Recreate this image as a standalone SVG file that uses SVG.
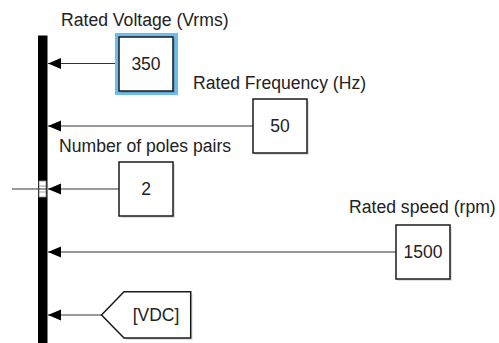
<svg xmlns="http://www.w3.org/2000/svg" width="499" height="343" viewBox="0 0 499 343">
<style>
text{font-family:"Liberation Sans",Arial,sans-serif;fill:#222;}
.lbl{font-size:17.6px;}
.val{font-size:17.5px;text-anchor:middle;}
.blk{fill:#fff;stroke:#1a1a1a;stroke-width:1.5;}
.sh{fill:#000;opacity:0.12;}
.wire{stroke:#333;stroke-width:1;fill:none;}
</style>
<defs>
<marker id="arr" markerWidth="14" markerHeight="12" refX="13" refY="6" orient="auto" markerUnits="userSpaceOnUse">
<path d="M0,0.5 L13,6 L0,11.5 Z" fill="#000"/>
</marker>
</defs>
<rect width="499" height="343" fill="#fff"/>
<g id="connectors">
<line class="wire" x1="119" y1="63.5" x2="48" y2="63.5" marker-end="url(#arr)"/>
<line class="wire" x1="253" y1="126" x2="48" y2="126" marker-end="url(#arr)"/>
<line class="wire" x1="119" y1="189" x2="48" y2="189" marker-end="url(#arr)"/>
<line class="wire" x1="396" y1="252" x2="48" y2="252" marker-end="url(#arr)"/>
<line class="wire" x1="101.5" y1="315" x2="48" y2="315" marker-end="url(#arr)"/>
<line class="wire" x1="12" y1="189" x2="39" y2="189"/>
</g>
<g id="bus">
<rect x="38" y="35.5" width="9.5" height="308" fill="#000"/>
<rect x="39" y="181" width="7" height="16" fill="#fff" stroke="#888" stroke-width="0.8"/>
<line x1="39" y1="186" x2="46" y2="186" stroke="#888" stroke-width="0.8"/>
<line x1="39" y1="192" x2="46" y2="192" stroke="#888" stroke-width="0.8"/>
<line x1="39" y1="189" x2="46" y2="189" stroke="#333" stroke-width="1"/>
</g>
<g id="voltage">
<rect x="115" y="33" width="63" height="62" fill="#6cbcf0"/>
<rect class="sh" x="121" y="39" width="54" height="54"/>
<rect class="blk" x="119" y="37" width="54" height="54"/>
<text class="val" x="146" y="70">350</text>
<text class="lbl" x="61" y="26">Rated Voltage (Vrms)</text>
</g>
<g id="frequency">
<rect class="sh" x="255" y="101" width="54" height="54"/>
<rect class="blk" x="253" y="99" width="54" height="54"/>
<text class="val" x="280" y="132">50</text>
<text class="lbl" x="193" y="89">Rated Frequency (Hz)</text>
</g>
<g id="poles">
<rect class="sh" x="121" y="164" width="54" height="54"/>
<rect class="blk" x="119" y="162" width="54" height="54"/>
<text class="val" x="146" y="195">2</text>
<text class="lbl" x="59" y="152">Number of poles pairs</text>
</g>
<g id="speed">
<rect class="sh" x="398" y="227" width="54" height="54"/>
<rect class="blk" x="396" y="225" width="54" height="54"/>
<text class="val" x="423" y="258">1500</text>
<text class="lbl" x="349" y="213">Rated speed (rpm)</text>
</g>
<g id="vdc">
<polygon class="sh" points="103.5,317 126,293.7 192.7,293.7 192.7,340 126,340"/>
<polygon class="blk" points="101.5,315 124,291.7 190.7,291.7 190.7,338 124,338"/>
<text class="val" x="156" y="321">[VDC]</text>
</g>
</svg>
